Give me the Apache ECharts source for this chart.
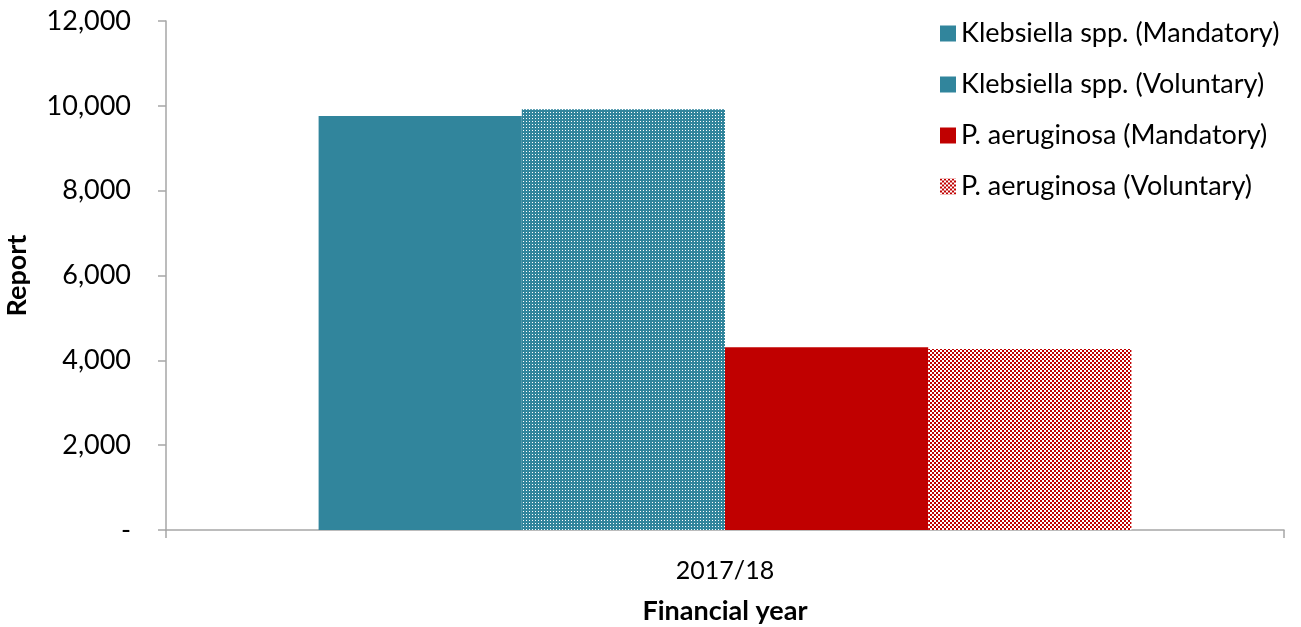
<!DOCTYPE html>
<html>
<head>
<meta charset="utf-8">
<script src="https://cdn.jsdelivr.net/npm/echarts@6/dist/echarts.min.js"></script>
<style>
html, body { margin: 0; padding: 0; background: #fff; }
#chart { width: 1301px; height: 627px; }
</style>
</head>
<body>
<div id="chart"></div>
<script>
var categories = ["2017/18"];
var seriesNames = [
  "Klebsiella spp. (Mandatory)",
  "Klebsiella spp. (Voluntary)",
  "P. aeruginosa (Mandatory)",
  "P. aeruginosa (Voluntary)"
];
var klebMandatory = [9760];
var klebVoluntary = [9920];
var paerMandatory = [4310];
var paerVoluntary = [4270];

var TEAL = "#31859c";
var RED = "#c00000";

// small dotted pattern for the voluntary klebsiella bar
function dotPattern() {
  var c = document.createElement("canvas");
  c.width = 3; c.height = 3;
  var ctx = c.getContext("2d");
  ctx.fillStyle = TEAL;
  ctx.fillRect(0, 0, 3, 3);
  ctx.fillStyle = "#ffffff";
  ctx.fillRect(1, 1, 1, 1);
  return c;
}
// checker pattern for the voluntary aeruginosa bar
function checkPattern() {
  var c = document.createElement("canvas");
  c.width = 4; c.height = 4;
  var ctx = c.getContext("2d");
  ctx.fillStyle = "#ffffff";
  ctx.fillRect(0, 0, 4, 4);
  ctx.fillStyle = RED;
  ctx.fillRect(0, 0, 2, 2);
  ctx.fillRect(2, 2, 2, 2);
  return c;
}

var font = "Lato, 'Open Sans', sans-serif";
var chart = echarts.init(document.getElementById("chart"));
chart.setOption({
  animation: false,
  textStyle: { fontFamily: font },
  grid: { left: 166, right: 17, top: 21, bottom: 97, outerBoundsMode: "none" },
  legend: {
    orient: "vertical",
    left: 935,
    top: 15,
    itemWidth: 16,
    itemHeight: 16,
    itemGap: 24,
    icon: "rect",
    textStyle: { fontSize: 27, color: "#000", fontFamily: font },
    data: [
      { name: seriesNames[0], itemStyle: { color: TEAL } },
      { name: seriesNames[1], itemStyle: { color: TEAL } },
      { name: seriesNames[2], itemStyle: { color: RED } },
      { name: seriesNames[3], itemStyle: { color: { image: checkPattern(), repeat: "repeat" } } }
    ]
  },
  xAxis: {
    type: "category",
    data: categories,
    name: "Financial year",
    nameLocation: "middle",
    nameGap: 68,
    nameTextStyle: { fontSize: 27, fontWeight: "bold", color: "#000" },
    axisLine: { lineStyle: { color: "#a6a6a6", width: 1.5 } },
    axisTick: { show: true, length: 8, lineStyle: { color: "#a6a6a6", width: 1.5 } },
    axisLabel: { fontSize: 25, color: "#000", margin: 28 }
  },
  yAxis: {
    type: "value",
    min: 0,
    max: 12000,
    interval: 2000,
    name: "Report",
    nameLocation: "middle",
    nameGap: 135,
    nameTextStyle: { fontSize: 27, fontWeight: "bold", color: "#000" },
    axisLine: { show: true, lineStyle: { color: "#a6a6a6", width: 1.5 } },
    axisTick: { show: true, length: 8, lineStyle: { color: "#a6a6a6", width: 1.5 } },
    splitLine: { show: false },
    axisLabel: {
      fontSize: 27,
      color: "#000",
      margin: 35,
      formatter: function (v) {
        return v === 0 ? "-" : v.toLocaleString("en-US");
      }
    }
  },
  series: [
    { name: seriesNames[0], type: "bar", data: klebMandatory, barGap: "0%", barCategoryGap: "27.3%",
      itemStyle: { color: TEAL } },
    { name: seriesNames[1], type: "bar", data: klebVoluntary,
      itemStyle: { color: { image: dotPattern(), repeat: "repeat" } } },
    { name: seriesNames[2], type: "bar", data: paerMandatory,
      itemStyle: { color: RED } },
    { name: seriesNames[3], type: "bar", data: paerVoluntary,
      itemStyle: { color: { image: checkPattern(), repeat: "repeat" } } }
  ]
});
</script>
</body>
</html>
